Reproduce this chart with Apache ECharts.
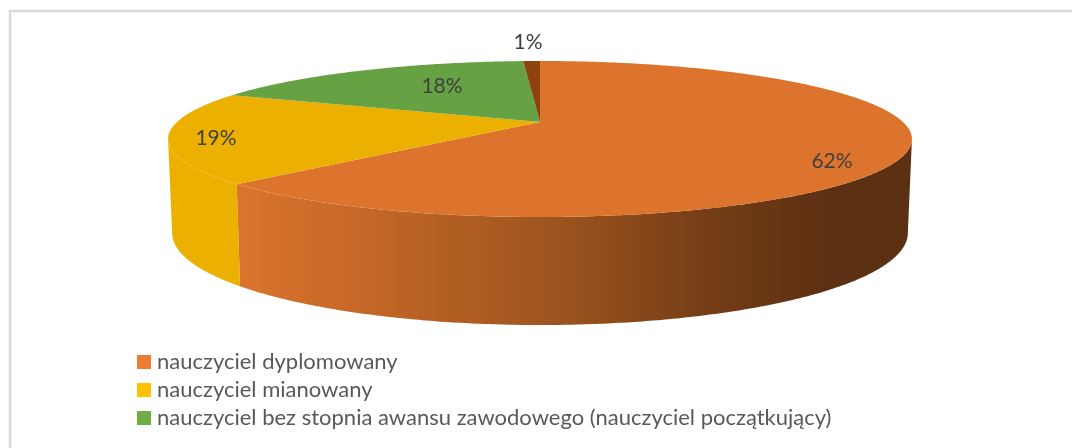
<!DOCTYPE html>
<html><head><meta charset="utf-8">
<style>html,body{margin:0;padding:0;background:#fff}#c{width:1072px;height:448px}</style>
<script src="https://cdn.jsdelivr.net/npm/echarts@6/dist/echarts.min.js"></script>
</head><body><div id="c"></div>
<script>
const categories = ['nauczyciel dyplomowany', 'nauczyciel mianowany', 'nauczyciel bez stopnia awansu zawodowego (nauczyciel początkujący)', 'pozostali'];
const values = [62.49, 18.9, 17.71, 0.9];
const legendColors = ['#ed7d31', '#ffc000', '#70ad47', '#9e480e'];
const topColors = ['#dc742d', '#ecb100', '#66a244', '#8f420d'];
const sideColors = ['orange', '#ebb000', '#66a244', '#8f420d'];

// projection of the disc: perspective factor, top rim and bottom rim
const P = { cx: 540, k: 0.218, top: { a: 363, b: 74.3, y: 122 }, bot: { a: 359, b: 87.6, y: 213 } };
const labelPos = [[832, 161], [216, 138], [442, 86], [528, 42]];
const total = values.reduce((s, v) => s + v, 0);

function rim(r, deg) {
  const t = deg * Math.PI / 180, X = Math.sin(t), Y = Math.cos(t), w = 1 + P.k * Y;
  return [P.cx + r.a * X / w, r.y - r.b * Y / w];
}
function arc(r, from, to) {
  const n = Math.max(2, Math.ceil(Math.abs(to - from) * 2)), out = [];
  for (let i = 0; i <= n; i++) out.push(rim(r, from + (to - from) * i / n));
  return out;
}
const orangeSide = {
  type: 'linear', x: 233, y: 0, x2: 830, y2: 0, global: true,
  colorStops: [
    { offset: 0, color: '#dc742d' }, { offset: 0.28, color: '#bd6425' },
    { offset: 0.55, color: '#9c531e' }, { offset: 0.8, color: '#743d16' },
    { offset: 1, color: '#5c3012' }
  ]
};
function renderSlice(index) {
  return function () {
    let acc = 0;
    for (let i = 0; i < index; i++) acc += values[i];
    const a0 = acc / total * 360, a1 = (acc + values[index]) / total * 360;
    const ext = Math.acos(-P.k) * 180 / Math.PI;
    const children = [];
    const s0 = Math.max(a0, ext), s1 = Math.min(a1, 360 - ext);
    if (s1 > s0) {
      children.push({
        type: 'polygon',
        shape: { points: arc(P.top, s0, s1).concat(arc(P.bot, s1, s0)) },
        style: { fill: sideColors[index] === 'orange' ? orangeSide : sideColors[index] },
        z2: 1
      });
    }
    children.push({
      type: 'polygon',
      shape: { points: [[P.cx, P.top.y]].concat(arc(P.top, a0, a1)) },
      style: { fill: topColors[index] },
      z2: 2
    });
    children.push({
      type: 'text',
      x: labelPos[index][0], y: labelPos[index][1],
      style: {
        text: Math.round(values[index] / total * 100) + '%',
        fill: '#404040', font: '21px Lato', align: 'center', verticalAlign: 'middle'
      },
      z2: 3
    });
    return { type: 'group', children };
  };
}
const chart = echarts.init(document.getElementById('c'), null, { renderer: 'canvas' });
chart.setOption({
  animation: false,
  backgroundColor: '#fff',
  legend: {
    orient: 'vertical', left: 137, top: 351, padding: 0,
    icon: 'rect', itemWidth: 14, itemHeight: 14, itemGap: 6,
    selectedMode: false,
    data: categories.slice(0, 3),
    textStyle: { color: '#595959', fontFamily: 'Lato', fontSize: 22, padding: [0, 0, 0, 1] }
  },
  graphic: [{
    type: 'polyline', silent: true, z: -1,
    shape: { points: [[10, 448], [10, 11], [1072, 11]] },
    style: { stroke: '#d9d9d9', lineWidth: 2.5, fill: null }
  }],
  series: categories.map((name, i) => ({
    type: 'custom', name, coordinateSystem: 'none', silent: true,
    itemStyle: { color: legendColors[i] },
    renderItem: renderSlice(i),
    data: [[values[i]]]
  }))
});
</script></body></html>
